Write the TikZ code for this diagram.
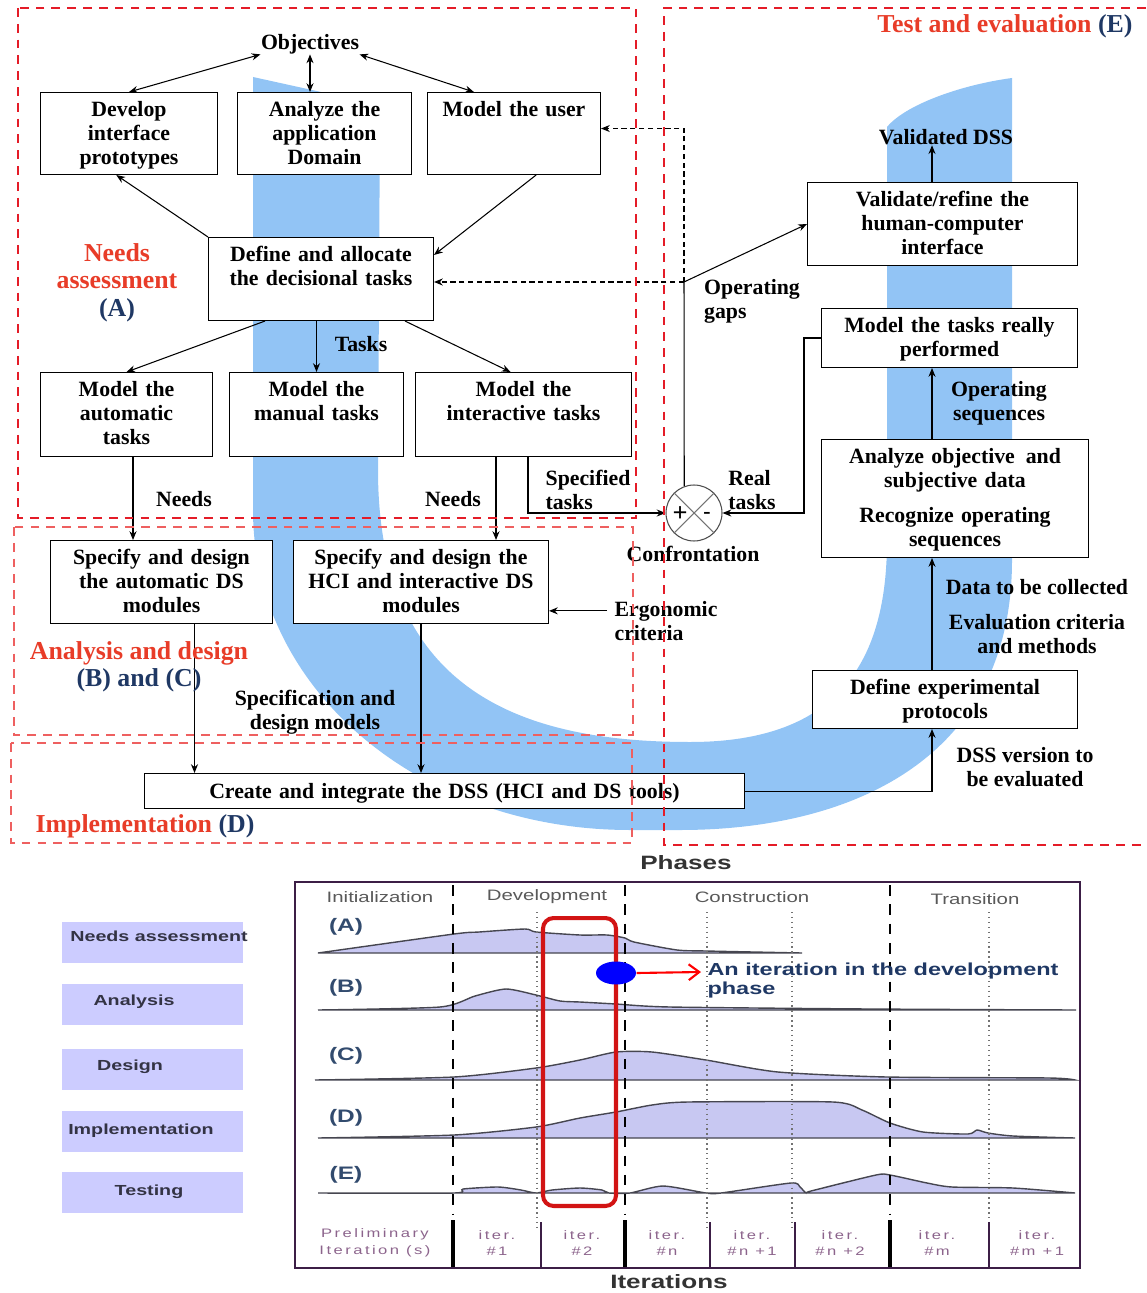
\documentclass[tikz,border=0pt]{standalone}
\usepackage{fontspec}
\setmainfont{Liberation Serif}
\newfontfamily\chartfont[FakeStretch=1.35]{Liberation Sans}
\newfontfamily\iterfont[FakeStretch=1.35,LetterSpace=20]{Liberation Sans}
\usetikzlibrary{arrows.meta,calc,shapes.geometric}
\definecolor{regred}{RGB}{232,60,40}
\definecolor{regnavy}{RGB}{31,56,100}
\definecolor{bandblue}{RGB}{146,196,245}
\definecolor{zonered}{RGB}{228,28,40}
\definecolor{zonepink}{RGB}{238,96,96}
\definecolor{lav}{RGB}{204,204,255}
\definecolor{curvefill}{RGB}{200,200,242}
\definecolor{curveline}{RGB}{70,70,80}
\definecolor{framepurple}{RGB}{60,30,70}
\definecolor{iterpurple}{RGB}{140,100,140}
\definecolor{rowblue}{RGB}{50,75,110}
\definecolor{labeldark}{RGB}{51,51,68}
\definecolor{boxred}{RGB}{210,20,20}
\tikzset{
	box/.style={draw, fill=white, anchor=north west, inner sep=0pt, align=center, text height=0.48cm, font=\fontsize{12.4}{13.6}\selectfont\bfseries},
	lbl/.style={inner sep=0pt, font=\fontsize{12.4}{13.6}\selectfont\bfseries},
	zone/.style={draw=zonered, dash pattern=on 5pt off 4pt, line width=1.1pt},
	zonetitle/.style={inner sep=0pt, align=center, text=regnavy, font=\fontsize{14.7}{15.3}\selectfont\bfseries},
	arr/.style={-{Stealth[length=5pt,width=4pt]}},
	arrboth/.style={{Stealth[length=5pt,width=4pt]}-{Stealth[length=5pt,width=4pt]}},
	gapline/.style={dash pattern=on 3pt off 2pt},
	lbox/.style={fill=lav, minimum width=3.62cm, minimum height=0.82cm, inner sep=0pt},
	ltext/.style={inner sep=0pt, text=labeldark, font=\chartfont\bfseries\fontsize{8.3}{10}\selectfont},
	phasetxt/.style={inner sep=0pt, text=black!65, font=\chartfont\fontsize{8.6}{10}\selectfont},
	rowtxt/.style={inner sep=0pt, text=rowblue, font=\chartfont\bfseries\fontsize{10.3}{12}\selectfont},
	itertxt/.style={inner sep=0pt, align=center, text=iterpurple, font=\iterfont\fontsize{7}{9.6}\selectfont},
	charttitle/.style={inner sep=0pt, text=black!80, font=\chartfont\bfseries\fontsize{11}{13}\selectfont},
	curve/.style={fill=curvefill, draw=curveline, line width=0.8pt},
	phasediv/.style={line width=1.6pt, dash pattern=on 6pt off 5pt},
	iterdot/.style={black!55, dotted, line width=0.8pt},
	itersep/.style={framepurple, line width=1.1pt}
}
\begin{document}
	\begin{tikzpicture}[x=0.02cm, y=-0.02cm, line width=0.6pt]
		\useasboundingbox (0,0) rectangle (1146,1293);

		\fill[bandblue] (253,77) -- (380,105) -- (378,470) .. controls (378,690) and (520,742) .. (690,742)
			.. controls (840,742) and (887,660) .. (887,540) -- (887,127) .. controls (905,105) and (960,85) .. (1012,78)
			-- (1012,560) .. controls (1012,760) and (850,830) .. (680,830) -- (630,830)
			.. controls (420,830) and (253,690) .. (253,510) -- cycle;

		\node[lbl] (obj) at (310,44) {Objectives};
		\node[box, text width=3.54cm, text depth=1.16cm] (proto) at (40,92) {Develop\\interface\\prototypes};
		\node[box, text width=3.48cm, text depth=1.16cm] (domain) at (237,92) {Analyze the\\application\\Domain};
		\node[box, text width=3.46cm, text depth=1.16cm] (user) at (427,92) {Model the user};
		\node[box, text width=4.5cm, text depth=1.18cm] (alloc) at (208,237) {Define and allocate\\the decisional tasks};
		\node[box, text width=3.44cm, text depth=1.2cm] (auto) at (40,372) {Model the\\automatic\\tasks};
		\node[box, text width=3.48cm, text depth=1.2cm] (manual) at (229,372) {Model the\\manual tasks};
		\node[box, text width=4.32cm, text depth=1.2cm] (inter) at (415,372) {Model the\\interactive tasks};
		\node[box, text width=4.44cm, text depth=1.18cm] (sauto) at (50,540) {Specify and design\\the automatic DS\\modules};
		\node[box, text width=5.1cm, text depth=1.18cm] (shci) at (293,540) {Specify and design the\\HCI and interactive DS\\modules};
		\node[box, text width=12cm, text height=0.5cm, text depth=0.2cm] (create) at (144,773) {Create and integrate the DSS (HCI and DS tools)};
		\node[box, text width=5.4cm, text depth=1.18cm] (valid) at (807,182) {Validate/refine the\\human-computer\\interface};
		\node[box, text width=5.12cm, text depth=0.7cm] (real) at (821,308) {Model the tasks really\\performed};
		\node[box, text width=5.34cm, text depth=1.88cm] (anal) at (821,439) {Analyze objective\, and\\subjective data\\[0.22cm]Recognize operating\\sequences};
		\node[box, text width=5.3cm, text depth=0.68cm] (expe) at (812,670) {Define experimental\\protocols};

		\node[circle, draw=black!70, minimum size=1.12cm, inner sep=0pt] (conf) at (694,513) {};
		\draw[black!55] (conf.45) -- (conf.225) (conf.135) -- (conf.315);
		\node[lbl, font=\fontsize{15}{15}\selectfont\bfseries] (plus) at (680,514) {+};
		\node[lbl] (minus) at (707,515) {-};

		\node[lbl] (tasksl) at (361,344) {Tasks};
		\node[lbl] (needsl1) at (184,499) {Needs};
		\node[lbl] (needsl2) at (453,499) {Needs};
		\node[lbl, align=left] (specl) at (588,490) {Specified\\tasks};
		\node[lbl, align=left] (reall) at (752,490) {Real\\tasks};
		\node[lbl] (confl) at (693,554) {Confrontation};
		\node[lbl, align=left] (gapsl) at (752,301) {Operating\\gaps};
		\node[lbl, align=left] (ergol) at (666,621) {Ergonomic\\criteria};
		\node[lbl, align=center] (specml) at (315,712) {Specification and\\design models};
		\node[lbl] (vdss) at (946,137) {Validated DSS};
		\node[lbl, align=center] (seql) at (999,403) {Operating\\sequences};
		\node[lbl] (datal) at (1037,587) {Data to be collected};
		\node[lbl, align=center] (critl) at (1037,634) {Evaluation criteria\\and methods};
		\node[lbl, align=center] (dssvl) at (1025,767) {DSS version to\\be evaluated};

		\draw[arrboth] (obj.south west) -- (proto.north);
		\draw[arrboth] (obj.south) -- (obj.south |- domain.north);
		\draw[arrboth] (obj.south east) -- (user.134);
		\draw[arr] (alloc.north west) -- (proto.253);
		\draw[arr] (user.298) -- (alloc.12);
		\coordinate (gap) at (684,282);
		\draw[gapline, arr] (gap) -- (gap -| alloc.east);
		\draw[gapline, arr] (gap) |- ([yshift=0.1cm]user.east);
		\draw[arr] (gap) -- (valid.west);
		\draw (gap) -- (conf.110);

		\draw[arr] ($(alloc.south west)+(57,0)$) -- (auto.north);
		\draw[arr] (alloc.south -| manual.north) -- (manual.north);
		\draw[arr] ($(alloc.south east)+(-29,0)$) -- (inter.107);
		\draw[arr] ($(auto.south west)+(93,0)$) -- ($(sauto.north west)+(83,0)$);
		\draw[arr] ($(inter.south west)+(81,0)$) -- ($(shci.north west)+(203,0)$);
		\draw[arr] ($(inter.south east)+(-104,0)$) |- (conf.west);
		\draw[arr] (real.west) -- ++(-17,0) |- (conf.east);
		\draw[arr] ($(ergol.north west)+(-7,10)$) coordinate (ergo) -- (ergo -| shci.east);
		\draw[arr] ($(sauto.south)+(33,0)$) coordinate (smod) -- (smod |- create.north);
		\draw[arr] (shci.south) -- (shci.south |- create.north);

		\coordinate (col) at (932,0);
		\draw[arr] (create.east) -| (col |- expe.south);
		\draw[arr] (col |- expe.north) -- (col |- anal.south);
		\draw[arr] (col |- anal.north) -- (col |- real.south);
		\draw[arr] (col |- valid.north) -- (col |- vdss.south);

		\draw[zone] (18,8) rectangle (636,518);
		\draw[zone, draw=zonepink] (14,527) rectangle (633,735);
		\draw[zone, draw=zonepink] (11,743) rectangle (632,843);
		\draw[zone] (1146,8) -- (664,8) -- (664,845) -- (1146,845);

		\node[zonetitle] (zonea) at (117,283) {\textcolor{regred}{Needs}\\\textcolor{regred}{assessment}\\[1pt](A)};
		\node[zonetitle] (zonebc) at (139,667) {\textcolor{regred}{Analysis and design}\\(B) and (C)};
		\node[zonetitle] (zoned) at (145,826) {\textcolor{regred}{Implementation} (D)};
		\node[zonetitle, anchor=east] (zonee) at (1133,26) {\textcolor{regred}{Test and evaluation} (E)};

		\node[charttitle] (phases) at (686,863) {Phases};
		\node[charttitle] (iters) at (669,1282) {Iterations};

		\node[lbox] (lneeds) at (152.5,942) {};
		\node[ltext] (lneedst) at (159,936) {Needs assessment};
		\node[lbox] (lana) at (152.5,1004.5) {};
		\node[ltext] (lanat) at (134,1002) {Analysis};
		\node[lbox] (ldes) at (152.5,1069) {};
		\node[ltext] (ldest) at (130,1067) {Design};
		\node[lbox] (limp) at (152.5,1131.5) {};
		\node[ltext] (limpt) at (141,1131) {Implementation};
		\node[lbox] (ltest) at (152.5,1192.5) {};
		\node[ltext] (ltestt) at (149,1192) {Testing};

		\filldraw[curve] plot[smooth, tension=0.4] coordinates {(318,953) (454,934) (479,932) (525,929) (536,932) (580,935) (607,935) (625,938) (634,942) (677,950) (706,951) (802,953)} -- cycle;
		\filldraw[curve] plot[smooth, tension=0.4] coordinates {(318,1010) (440,1007) (475,996) (506,989) (536,995) (560,1001) (580,1002) (616,1004) (670,1007) (869,1009) (1076,1010)} -- cycle;
		\filldraw[curve] plot[smooth, tension=0.4] coordinates {(315,1080) (454,1077) (536,1068) (580,1060) (616,1052) (652,1052) (706,1060) (778,1072) (887,1077) (1049,1078) (1075,1080)} -- cycle;
		\filldraw[curve] plot[smooth, tension=0.4] coordinates {(318,1138) (454,1135) (536,1127) (580,1118) (616,1112) (652,1105) (688,1102) (833,1102) (862,1110) (890,1123) (923,1132) (968,1134) (977,1130) (988,1133) (1013,1136) (1075,1138)} -- cycle;
		\filldraw[curve] plot[smooth, tension=0.4] coordinates {(318,1193) (454,1193) (463,1189) (498,1187) (521,1190) (536,1193) (552,1190) (580,1188) (602,1190) (609,1193) (630,1193) (663,1186) (706,1193) (721,1193) (791,1183) (800,1187) (806,1193) (811,1191) (876,1175) (890,1175) (927,1183) (952,1187) (1013,1188) (1075,1193)} -- cycle;

		\node[rowtxt] (rowa) at (346,927) {(A)};
		\node[rowtxt] (rowb) at (346,988) {(B)};
		\node[rowtxt] (rowc) at (346,1056) {(C)};
		\node[rowtxt] (rowd) at (346,1118) {(D)};
		\node[rowtxt] (rowe) at (346,1175) {(E)};

		\node[phasetxt] (pinit) at (380,897) {Initialization};
		\node[phasetxt] (pdev) at (547,897) {Development};
		\node[phasetxt] (pcons) at (752,897) {Construction};
		\node[phasetxt] (ptrans) at (975,899) {Transition};

		\draw[iterdot] (537,912) -- (537,1230);
		\draw[iterdot] (707,912) -- (707,1230);
		\draw[iterdot] (792,912) -- (792,1230);
		\draw[iterdot] (989,912) -- (989,1230);

		\draw[phasediv] (453,885) -- (453,1214);
		\draw[phasediv] (625,885) -- (625,1214);
		\draw[phasediv] (890,885) -- (890,1214);
		\draw[line width=2.2pt] (453,1220) -- (453,1268);
		\draw[line width=2.2pt] (625,1220) -- (625,1268);
		\draw[line width=2.2pt] (890,1220) -- (890,1268);
		\draw[itersep] (541,1222) -- (541,1268);
		\draw[itersep] (710,1222) -- (710,1268);
		\draw[itersep] (795,1222) -- (795,1268);
		\draw[itersep] (989,1222) -- (989,1268);

		\node[itertxt] (it0) at (375,1243) {Preliminary\\Iteration (s)};
		\node[itertxt] (it1) at (497,1243) {iter.\\\#1};
		\node[itertxt] (it2) at (582,1243) {iter.\\\#2};
		\node[itertxt] (it3) at (667,1243) {iter.\\\#n};
		\node[itertxt] (it4) at (752,1243) {iter.\\\#n +1};
		\node[itertxt] (it5) at (840,1243) {iter.\\\#n +2};
		\node[itertxt] (it6) at (937,1243) {iter.\\\#m};
		\node[itertxt] (it7) at (1037,1243) {iter.\\\#m +1};

		\draw[framepurple, line width=1.6pt] (295,882) rectangle (1080,1268);

		\node[draw=boxred, line width=2.3pt, rounded corners=6pt, minimum width=1.46cm, minimum height=5.76cm, inner sep=0pt] (iterbox) at (579.5,1062) {};
		\node[ellipse, fill=blue, minimum width=0.8cm, minimum height=0.46cm, inner sep=0pt] (dot) at (616,973) {};
		\node[anchor=north west, align=left, inner sep=0pt, text=regnavy, font=\chartfont\bfseries\fontsize{9.9}{10.8}\selectfont] (annot) at (707,962) {An iteration in the development\\phase};
		\draw[red, line width=1.2pt, -{Straight Barb[length=6pt,width=9pt]}] (dot.east) -- ($(annot.north west)+(-6,10)$);
	\end{tikzpicture}
\end{document}
